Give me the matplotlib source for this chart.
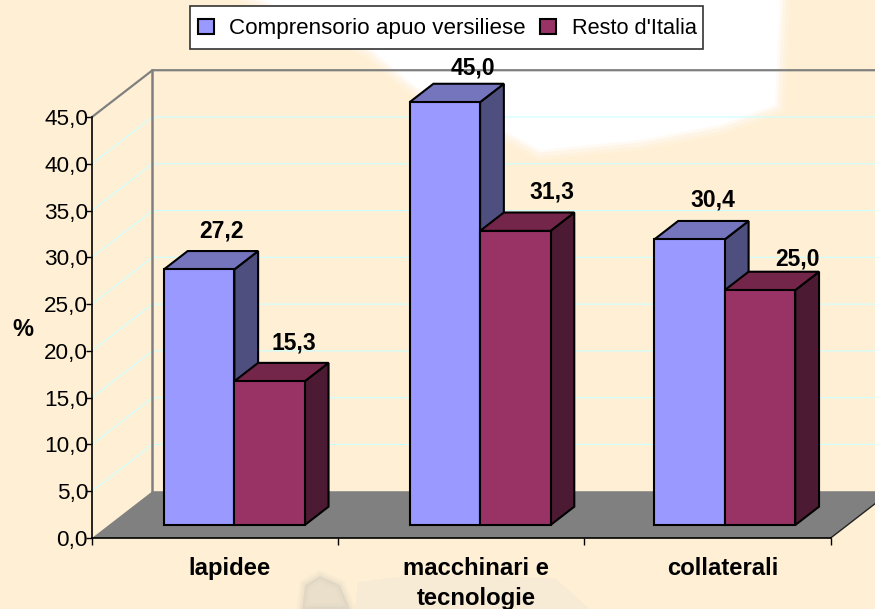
import matplotlib

matplotlib.use("Agg")
import matplotlib.pyplot as plt
from matplotlib.patches import Polygon, Rectangle

plt.rcParams["font.family"] = ["Liberation Sans", "DejaVu Sans"]

# data
categories = ["lapidee", "macchinari e\ntecnologie", "collaterali"]
series_names = ["Comprensorio apuo versiliese", "Resto d'Italia"]
apuo_values = [27.2, 45.0, 30.4]
italia_values = [15.3, 31.3, 25.0]
y_ticks = [0, 5, 10, 15, 20, 25, 30, 35, 40, 45]

# label nudges in pixels, from the back centre of each bar top
label_dx = [[-1, 4, -1], [1, 13, 14]]
label_dy = [[20, 16, 21], [20, 21, 13]]
group_shift = [0.01, 0.008, 0.002]

# styles
BG = "#FFF0D5"
GRID = "#CCFFFF"
WALL = "#808080"
FRONT = ["#9999FF", "#993366"]
TOP = ["#7575BD", "#732649"]
SIDE = ["#4F4F7F", "#4D1A33"]

# oblique projection: one unit of depth in axis units
DEPTH_X = 0.2457
DEPTH_Y = 5.0
BAR_W = 0.286
BAR_D0 = 0.277
BAR_D1 = 0.67
BAR_SCALE = 1.0045


def project(x, y, d=0.0):
    return x + d * DEPTH_X, y + d * DEPTH_Y


fig = plt.figure(figsize=(8.75, 6.09), dpi=100, facecolor=BG)

# washed out background picture
bg = fig.add_axes([0, 0, 1, 1], zorder=0)
bg.set_xlim(0, 875)
bg.set_ylim(609, 0)
bg.axis("off")
blob = [(262, 0), (330, 28), (372, 50), (405, 78), (440, 105), (503, 130), (540, 150),
        (640, 140), (720, 125), (775, 105), (780, 0)]
for lw, alpha in [(14, 0.2), (9, 0.3), (4, 0.5)]:
    bg.add_patch(Polygon(blob, closed=True, fc="none", ec="white", lw=lw, alpha=alpha))
bg.add_patch(Polygon(blob, closed=True, fc="white", ec="none"))
logo = [(302, 609), (305, 585), (320, 576), (340, 585), (350, 609)]
for lw, alpha in [(8, 0.08), (4, 0.12)]:
    bg.add_patch(Polygon(logo, closed=True, fc="none", ec="#B8B8B0", lw=lw, alpha=alpha))
bg.add_patch(Polygon(logo, closed=True, fc="#C4C0B8", ec="none", alpha=0.35))
bg.add_patch(Polygon([(355, 609), (358, 582), (420, 574), (555, 578), (590, 609)],
                     closed=True, fc="#F2E8D6", ec="none", alpha=0.6))

ax = fig.add_axes([92 / 875, 71 / 609, 738.7 / 875, 421 / 609], zorder=1)
ax.patch.set_alpha(0)
ax.set_xlim(0, 3)
ax.set_ylim(0, 45)
ax.spines["top"].set_visible(False)
ax.spines["right"].set_visible(False)
ax.spines["left"].set_linewidth(1.2)
ax.spines["bottom"].set_linewidth(1.2)

# walls and floor
for v in y_ticks[1:-1]:
    xs, ys = zip(project(0, v), project(0, v, 1), project(3, v, 1))
    ax.plot(xs, ys, color=GRID, lw=0.8, clip_on=False, zorder=1)
floor = [project(0, 0), project(3, 0), project(3, 0, 1), project(0, 0, 1)]
ax.add_patch(Polygon(floor, closed=True, fc=WALL, ec="none", clip_on=False, zorder=1.5))
xs, ys = zip(project(0, 45), project(0, 45, 1), project(3, 45, 1))
ax.plot(xs, ys, color=WALL, lw=1.6, clip_on=False, zorder=1.6)
xs, ys = zip(project(0, 0, 1), project(0, 45, 1))
ax.plot(xs, ys, color=WALL, lw=1.8, clip_on=False, zorder=1.6)
xs, ys = zip(project(3, 0), project(3, 0, 1))
ax.plot(xs, ys, color="#222222", lw=1.0, clip_on=False, zorder=1.6)

# bars
z = 3
for s, values in enumerate([apuo_values, italia_values]):
    for i, v in enumerate(values):
        x0 = i + 0.5 + group_shift[i] - BAR_W + s * BAR_W
        x1 = x0 + BAR_W
        h = v * BAR_SCALE
        faces = [
            ([project(x1, 0, BAR_D0), project(x1, 0, BAR_D1),
              project(x1, h, BAR_D1), project(x1, h, BAR_D0)], SIDE[s]),
            ([project(x0, h, BAR_D0), project(x1, h, BAR_D0),
              project(x1, h, BAR_D1), project(x0, h, BAR_D1)], TOP[s]),
            ([project(x0, 0, BAR_D0), project(x1, 0, BAR_D0),
              project(x1, h, BAR_D0), project(x0, h, BAR_D0)], FRONT[s]),
        ]
        for pts, col in faces:
            ax.add_patch(Polygon(pts, closed=True, fc=col, ec="black", lw=1.5,
                                 joinstyle="miter", clip_on=False, zorder=z))
        ax.annotate(f"{v:.1f}".replace(".", ","),
                    xy=project((x0 + x1) / 2, h, BAR_D1),
                    xytext=(label_dx[s][i], label_dy[s][i]),
                    textcoords="offset pixels", ha="center", va="center",
                    fontsize=16.5, fontweight="bold", color="black",
                    annotation_clip=False, zorder=10)

# axes
ax.set_yticks(y_ticks)
ax.set_yticklabels([f"{v:.1f}".replace(".", ",") for v in y_ticks], fontsize=16.2)
ax.tick_params(axis="y", length=4, width=1.0, pad=-1.2)
ax.set_xticks(range(4))
ax.set_xticklabels([])
ax.tick_params(axis="x", which="major", length=5, width=1.0)
ax.set_xticks([i + 0.56 for i in range(3)], minor=True)
ax.set_xticklabels(categories, minor=True, fontsize=17.2, fontweight="bold", linespacing=1.38)
ax.tick_params(axis="x", which="minor", length=0, pad=13.5)
ax.set_ylabel("%", rotation=0, fontsize=17, fontweight="bold", va="center", ha="center")
ax.yaxis.set_label_coords(-0.0934, 0.495)

# legend by hand, the library's one pads unevenly and shifts the second label
bg.add_patch(Rectangle((189.5, 6), 513.5, 42.5, fc="white", ec="#333333", lw=1.2, zorder=5))
for name, col, mx, tx, fs in zip(series_names, FRONT, [198, 539.5], [229, 572.5], [16.15, 15.7]):
    bg.add_patch(Rectangle((mx, 19), 16, 15, fc=col, ec="black", lw=1.5, zorder=6))
    bg.text(tx, 34, name, fontsize=fs, va="baseline", ha="left", zorder=6)

fig.savefig("out.png", dpi=100, facecolor=BG)
